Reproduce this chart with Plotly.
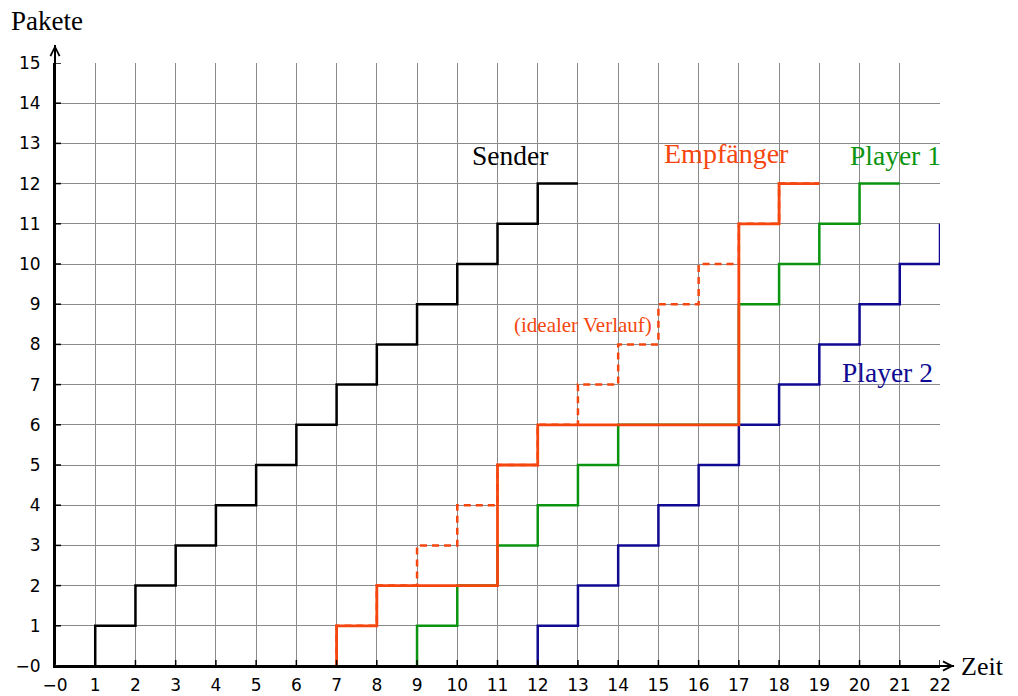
import plotly.graph_objects as go

# step vertices (drawn with 'vh' line shape)
sender_x = list(range(1, 14))
sender_y = list(range(0, 13))
ideal_x = list(range(7, 20))
ideal_y = list(range(0, 13))
empf_x = [7, 8, 11, 12, 17, 18, 19]
empf_y = [0, 1, 2, 5, 6, 11, 12]
p1_x = [9, 10, 11, 12, 13, 14, 17, 18, 19, 20, 21]
p1_y = [0, 1, 2, 3, 4, 5, 6, 9, 10, 11, 12]
p2_x = list(range(12, 23)) + [22]
p2_y = list(range(0, 11)) + [11]

x_ticks = list(range(0, 23))
y_ticks = list(range(0, 16))
x_ticktext = ["\u22120"] + [str(v) for v in x_ticks[1:]]
y_ticktext = ["\u22120"] + [str(v) for v in y_ticks[1:]]

ORANGE = "#f5460f"
GREEN = "#0b9410"
BLUE = "#100a92"
SERIF = "Liberation Serif, Times New Roman, serif"

fig = go.Figure()
fig.add_trace(go.Scatter(x=sender_x, y=sender_y, mode="lines", line=dict(shape="vh", color="black", width=2.5)))
fig.add_trace(go.Scatter(x=p2_x, y=p2_y, mode="lines", line=dict(shape="vh", color=BLUE, width=2.5)))
fig.add_trace(go.Scatter(x=p1_x, y=p1_y, mode="lines", line=dict(shape="vh", color=GREEN, width=2.5)))
fig.add_trace(go.Scatter(x=ideal_x, y=ideal_y, mode="lines", line=dict(shape="vh", color=ORANGE, width=2.5, dash="7px,5px")))
fig.add_trace(go.Scatter(x=empf_x, y=empf_y, mode="lines", line=dict(shape="vh", color=ORANGE, width=2.8)))

shapes = []
for t in x_ticks:
    shapes.append(dict(type="line", xref="x", yref="y", x0=t, x1=t, ysizemode="pixel", yanchor=0,
                       y0=-6, y1=6, line=dict(color="black", width=1.5), layer="above"))
for t in y_ticks:
    shapes.append(dict(type="line", xref="x", yref="y", y0=t, y1=t, xsizemode="pixel", xanchor=0,
                       x0=-6, x1=6, line=dict(color="black", width=1.5), layer="above"))

annotations = [
    dict(x=22.35, y=0, ax=0, ay=0, axref="x", ayref="y", xref="x", yref="y", text="",
         showarrow=True, arrowhead=0, arrowwidth=2, arrowcolor="black"),
    dict(x=0, y=15.45, ax=0, ay=0, axref="x", ayref="y", xref="x", yref="y", text="",
         showarrow=True, arrowhead=0, arrowwidth=2, arrowcolor="black"),
    dict(x=22.35, y=0, ax=22.0, ay=0, axref="x", ayref="y", xref="x", yref="y", text="",
         showarrow=True, arrowhead=5, arrowsize=1.2, arrowwidth=1.5, arrowcolor="black", standoff=0),
    dict(x=0, y=15.45, ax=0, ay=15.0, axref="x", ayref="y", xref="x", yref="y", text="",
         showarrow=True, arrowhead=5, arrowsize=1.2, arrowwidth=1.5, arrowcolor="black", standoff=0),
    dict(x=1.0475, y=0, xref="paper", yref="paper", text="Zeit", showarrow=False,
         xanchor="center", yanchor="middle",
         font=dict(family=SERIF, size=26, color="black")),
    dict(x=-0.009, y=1.0700, xref="paper", yref="paper", text="Pakete", showarrow=False,
         xanchor="center", yanchor="middle",
         font=dict(family=SERIF, size=27, color="black")),
    dict(x=11.31, y=12.71, xref="x", yref="y", text="Sender", showarrow=False,
         font=dict(family=SERIF, size=27.5, color="black")),
    dict(x=16.7, y=12.76, xref="x", yref="y", text="Empfänger", showarrow=False,
         font=dict(family=SERIF, size=28, color=ORANGE)),
    dict(x=20.9, y=12.71, xref="x", yref="y", text="Player 1", showarrow=False,
         font=dict(family=SERIF, size=27.5, color=GREEN)),
    dict(x=20.7, y=7.29, xref="x", yref="y", text="Player 2", showarrow=False,
         font=dict(family=SERIF, size=27.5, color=BLUE)),
    dict(x=13.12, y=8.48, xref="x", yref="y", text="(idealer Verlauf)", showarrow=False,
         font=dict(family=SERIF, size=21, color=ORANGE)),
]

fig.update_layout(
    width=1010, height=688,
    margin=dict(l=47, r=78, t=55, b=30, autoexpand=False),
    paper_bgcolor="white", plot_bgcolor="white",
    showlegend=False,
    shapes=shapes, annotations=annotations,
    font=dict(family="DejaVu Sans", size=17, color="black"),
)
fig.update_xaxes(range=[0, 22], tickvals=x_ticks, ticktext=x_ticktext, showgrid=True,
                 gridcolor="#8a8a8a", gridwidth=1, zeroline=False, showline=True, linecolor="black",
                 linewidth=2, ticks="", ticklabelstandoff=3, automargin=False)
fig.update_yaxes(range=[0, 15], tickvals=y_ticks, ticktext=y_ticktext, showgrid=True,
                 gridcolor="#8a8a8a", gridwidth=1, zeroline=False, showline=True, linecolor="black",
                 linewidth=2, ticks="", ticklabelstandoff=9, automargin=False)
fig.write_html("out.html")
